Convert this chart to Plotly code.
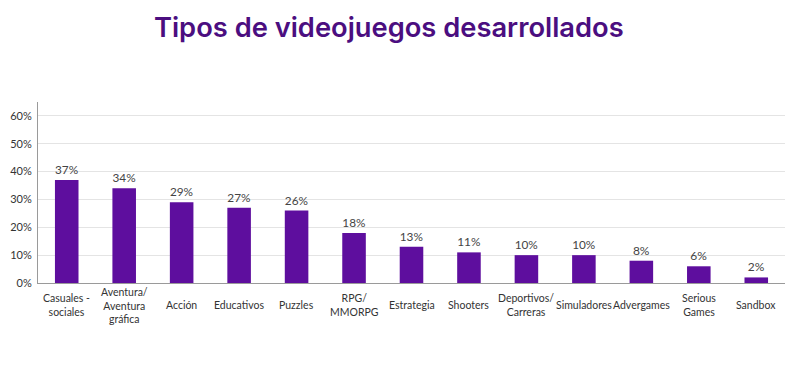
import plotly.graph_objects as go

categories = ["Casuales -<br>sociales", "Aventura/<br>Aventura<br>gráfica", "Acción", "Educativos",
              "Puzzles", "RPG/<br>MMORPG", "Estrategia", "Shooters", "Deportivos/<br>Carreras",
              "Simuladores", "Advergames", "Serious<br>Games", "Sandbox"]
values = [0.37, 0.34, 0.29, 0.27, 0.26, 0.18, 0.13, 0.11, 0.10, 0.10, 0.08, 0.06, 0.02]
tick_vals = [0, 0.1, 0.2, 0.3, 0.4, 0.5, 0.6]
tick_text = ["0%", "10%", "20%", "30%", "40%", "50%", "60%"]

fig = go.Figure(go.Bar(
    x=categories, y=values,
    marker=dict(color="#5E0E9E", line=dict(width=0)),
    width=0.41,
    text=[f"{round(v*100)}%" for v in values],
    textposition="outside",
    textfont=dict(family="Lato, sans-serif", size=12, color="#444444"),
    cliponaxis=False,
))

for c in categories:
    fig.add_annotation(
        x=c, xref="x", y=0, yref="paper", yanchor="middle", yshift=-22,
        text=c, showarrow=False, align="center",
        font=dict(family="Lato, sans-serif", size=10.5, color="#333333"),
    )

fig.update_layout(
    width=800, height=367,
    margin=dict(l=30, r=23, t=94, b=92, autoexpand=False),
    paper_bgcolor="white", plot_bgcolor="white",
    title=dict(text="Tipos de videojuegos desarrollados", x=0.476, xanchor="center",
               y=0.948, yanchor="middle",
               font=dict(family="Inter, Roboto, sans-serif", size=27.3, color="#4B0E80", weight=600)),
    showlegend=False,
    bargap=0.59,
    font=dict(family="Lato, sans-serif", color="#333333"),
)
fig.update_xaxes(
    showline=True, linecolor="#9a9a9a", linewidth=1,
    showticklabels=False,
    ticks="", fixedrange=True, automargin=False,
)
fig.update_yaxes(
    range=[0, 0.65], tickvals=tick_vals, ticktext=tick_text,
    showgrid=True, gridcolor="#e4e4e4", gridwidth=1,
    showline=True, linecolor="#9a9a9a", linewidth=1,
    zeroline=False, automargin=False,
    tickfont=dict(family="Lato, sans-serif", size=11, color="#333333"),
    ticks="", ticklabelstandoff=3,
)

fig.write_html("out.html")
